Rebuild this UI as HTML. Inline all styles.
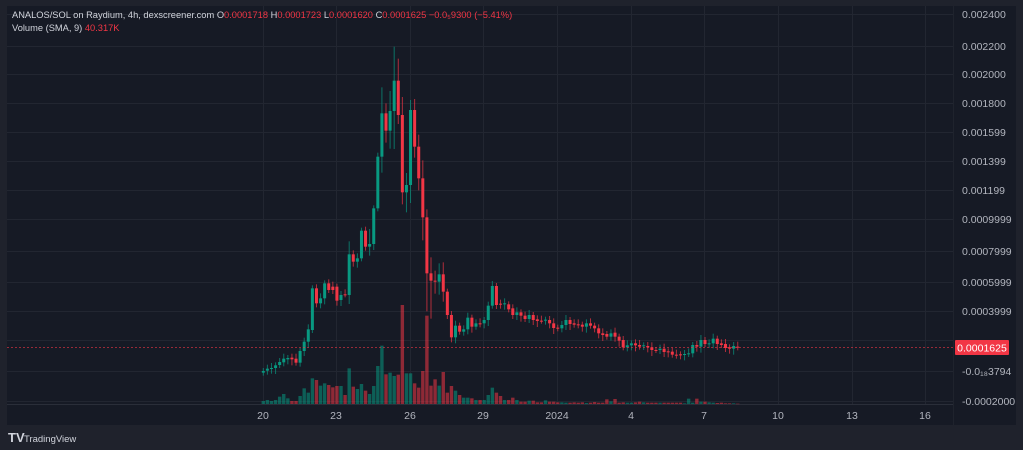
<!DOCTYPE html>
<html><head><meta charset="utf-8"><style>
html,body{margin:0;padding:0;background:#1f222c;width:1023px;height:450px;overflow:hidden;font-family:"Liberation Sans",sans-serif}
svg{position:absolute;left:0;top:0}
</style></head><body>
<svg id="s" width="1023" height="450" xmlns="http://www.w3.org/2000/svg">
<rect x="0" y="0" width="1023" height="450" fill="#1f222c"/>
<rect x="7" y="6" width="1009" height="419" fill="#161a25"/>
<g id="grid" stroke="#222631" stroke-width="1"></g>
<line x1="7" y1="404.5" x2="953" y2="404.5" stroke="#2a2e39"/>
<line x1="953.5" y1="6" x2="953.5" y2="425" stroke="#1f232d"/>
<g id="vol"></g>
<g id="c"></g>
<line x1="7" y1="347.5" x2="953" y2="347.5" stroke="#f23645" stroke-dasharray="2,2" stroke-opacity="0.6"/>
<g id="ax" font-size="10.5" fill="#b2b5be"></g>
<rect x="955" y="340" width="54" height="15" fill="#f23645" rx="1"/>
<text x="982" y="351.5" font-size="10.5" fill="#fff" text-anchor="middle">0.0001625</text>
<text x="12" y="18" font-size="9.3" fill="#d1d4dc">ANALOS/SOL on Raydium, 4h, dexscreener.com  <tspan>O</tspan><tspan fill="#f23645">0.0001718</tspan>  H<tspan fill="#f23645">0.0001723</tspan>  L<tspan fill="#f23645">0.0001620</tspan>  C<tspan fill="#f23645">0.0001625  −0.0₅9300 (−5.41%)</tspan></text>
<text x="12" y="31" font-size="9.3" fill="#d1d4dc">Volume (SMA, 9)  <tspan fill="#f23645">40.317K</tspan></text>
<text x="8" y="442" font-size="13" font-weight="bold" fill="#d1d4dc">TV</text>
<text x="24" y="442" font-size="9.5" fill="#d1d4dc">TradingView</text>
</svg>
<script>
var NS="http://www.w3.org/2000/svg";
function el(p,t,a,txt){var e=document.createElementNS(NS,t);for(var k in a)e.setAttribute(k,a[k]);if(txt)e.textContent=txt;document.getElementById(p).appendChild(e);}
var yl=[[14,"0.002400"],[46,"0.002200"],[74,"0.002000"],[103,"0.001800"],[132,"0.001599"],[161,"0.001399"],[190,"0.001199"],[219,"0.0009999"],[251,"0.0007999"],[282,"0.0005999"],[311,"0.0003999"],[340,"0.0001999"],[371,"-0.0₁₈3794"],[401,"-0.0002000"]];
yl.forEach(function(l){el("grid","line",{x1:7,x2:953,y1:l[0]+.5,y2:l[0]+.5});if(l[0]!=340)el("ax","text",{x:962,y:l[0]+4},l[1]);});
var xl=[[263,"20"],[336,"23"],[410,"26"],[483,"29"],[557,"2024"],[631,"4"],[704,"7"],[778,"10"],[852,"13"],[925,"16"]];
xl.forEach(function(l){el("grid","line",{x1:l[0]+.5,x2:l[0]+.5,y1:6,y2:404});el("ax","text",{x:l[0],y:419,"text-anchor":"middle"},l[1]);});
var z3=[[998,993],[992,986],[986,984],[984,976],[975,966],[967,956],[958,954],[953,958],[956,968],[968,933],[933,905],[905,868],[870,745],[745,790],[790,775],[775,730],[730,750],[740,750],[740,782],[780,765],[763,763],[765,643],[643,665],[665,655],[655,572],[572,620],[620,612],[612,505],[505,350],[350,220],[220,272],[272,213],[213,122],[122,225],[225,457],[457,435],[435,210],[210,320],[320,415],[415,532],[532,700],[700,722],[722,725],[725,703],[703,755],[755,825],[825,892],[892,857],[857,875],[875,868],[868,833],[833,860],[860,850],[850,850]];
var C=[];z3.forEach(function(a){C.push([40+a[0]/3,40+a[1]/3]);});
var z4=[[190,180],[180,137],[137,78],[78,135],[131,131],[131,130],[133,148],[145,165],[165,157],[157,167],[167,177],[177,165],[165,180],[178,183],[182,182],[182,179],[180,190],[190,204],[203,205],[205,195],[195,180],[180,192],[190,194],[193,193],[194,200],[200,190],[190,197],[197,205],[205,220],[220,225],[222,230],[230,220],[218,230],[230,242],[240,262],[262,256],[256,250],[250,256],[255,260],[258,256],[258,262],[262,270],[270,270],[270,266],[266,276],[274,274],[275,284],[284,284],[283,283],[283,282],[282,280],[280,255],[255,260],[260,240],[240,252],[252,250],[250,236],[236,252],[250,255],[252,264],[262,266],[266,258],[260,262]];
z4.forEach(function(a){C.push([260+a[0]/3,260+a[1]/3]);});
var hi={33:[14,1],34:[10,-4],29:[18,-8],31:[12,-10],32:[26,-30],36:[2,-10],35:[-4,12],39:[-10,15],40:[0,30],26:[-14,8],21:[-12,8],41:[-8,30]};
var vz3=[1083,1080,1083,1080,1070,1062,1075,1083,1083,1068,1045,1058,1015,1020,1037,1030,1035,1042,1038,1038,1065,985,1040,1047,1032,1052,1062,1038,978,917,1003,998,1008,1004,795,1000,1000,1030,1043,993,1000,1037,1018,1037,996,1058,1038,1052,1065,1073,1073,1075,1080,1080];
var V=vz3.map(function(v){return 40+v/3;});
var vz4=[420,405,383,398,408,420,420,413,420,425,425,422,422,427,427,421,425,425,427,427,428,428,427,428,427,429,428,426,428,428,418,424,417,428,427,428,428,427,425,427,428,428,428,428,428,428,428,428,428,430,416,428,416,425,425,427,428,429,428,430,430,430,431];
vz4.forEach(function(v){V.push(260+v/3);});
V[40]=40+827/3;
for(var i=0;i<C.length;i++){
 var x=263.3+i*4.09,o=C[i][0],c=C[i][1],up=c<o,col=up?"#089981":"#f23645";
 var t=Math.min(o,c),b=Math.max(o,c);
 var h=hi[i]||[2+(i%3),2+(i%4)];
 var wt=t-Math.abs(h[0])-(i>28&&i<45?8:1),wb=b+Math.abs(h[1])+(i>28&&i<45?8:1);
 el("c","line",{x1:x,x2:x,y1:wt,y2:wb,stroke:col,"stroke-width":1,"stroke-opacity":0.7});
 el("c","rect",{x:x-1.5,y:t,width:3,height:Math.max(1,b-t),fill:col});
 var vy=V[i]||403;
 el("vol","rect",{x:x-1.7,y:vy,width:3.4,height:Math.max(0.5,404-vy),fill:up?"#089981":"#f23645","fill-opacity":0.55});
}
</script>
</body></html>
